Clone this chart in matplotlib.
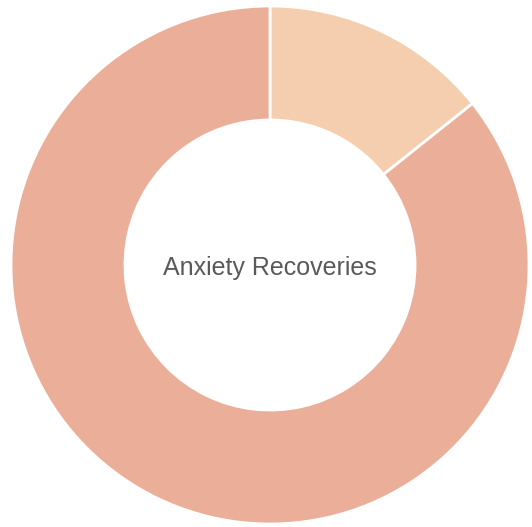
import matplotlib.pyplot as plt

labels = ['Recovered', 'Not recovered']
values = [1, 6]
colors = ['#F5CEAF', '#EBAE99']
center_text = 'Anxiety Recoveries'

W, H = 532, 527
fig = plt.figure(figsize=(W / 100, H / 100), dpi=100)
cx, cy, r = 270, 265, 259
ax = fig.add_axes([(cx - r) / W, (H - cy - r) / H, 2 * r / W, 2 * r / H])

ax.pie(values, colors=colors, startangle=90, counterclock=False, radius=1,
       wedgeprops=dict(width=0.44, edgecolor='white', linewidth=2))
ax.set_xlim(-1, 1)
ax.set_ylim(-1, 1)
ax.set_aspect('equal')
ax.axis('off')

ax.text(0, -0.01, center_text, ha='center', va='center', fontsize=18,
        color='#595959', family=['Liberation Sans', 'DejaVu Sans'])

fig.savefig('out.png', dpi=100)
